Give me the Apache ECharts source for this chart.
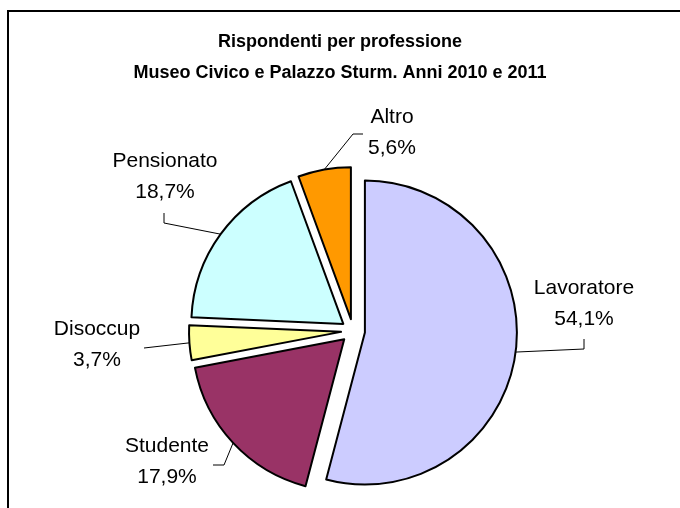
<!DOCTYPE html>
<html>
<head>
<meta charset="utf-8">
<script src="https://cdn.jsdelivr.net/npm/echarts@6/dist/echarts.min.js"></script>
<style>
  html, body { margin: 0; padding: 0; background: #fff; }
  #main { width: 680px; height: 508px; }
</style>
</head>
<body>
<div id="main"></div>
<script>
// data
var categories = ["Lavoratore", "Studente", "Disoccup", "Pensionato", "Altro"];
var values = [54.1, 17.9, 3.7, 18.7, 5.6];
var colors = ["#CCCCFF", "#993366", "#FFFF99", "#CCFFFF", "#FF9900"];

// label placement: text centre + leader elbow points
var labelPos = [
  { x: 584, y: 304, pts: [[584, 349], [584, 339]] },
  { x: 167, y: 462, pts: [[224, 465], [213, 465]] },
  { x: 97,  y: 345, pts: [[144, 348]] },
  { x: 165, y: 177, pts: [[164, 223], [164, 213]] },
  { x: 392, y: 133, pts: [[353, 134], [363, 134]] }
];

var cx = 353, cy = 331, R = 152, off = 12;
var FONT = "Liberation Sans, Arial, sans-serif";
var total = values.reduce(function(s, v){ return s + v; }, 0);

function midAngle(i){
  var acc = 0;
  for (var k = 0; k < i; k++) acc += values[k];
  return (acc + values[i] / 2) / total * Math.PI * 2;
}
function fmt(v){ return v.toFixed(1).replace(".", ",") + "%"; }

// frame, labels and leader lines (leader start on the exploded arc, from the data)
var graphics = [{
  type: "rect",
  shape: { x: 8, y: 11, width: 720, height: 600 },
  style: { fill: "none", stroke: "#000", lineWidth: 2 },
  silent: true
}];
categories.forEach(function(c, i){
  var a = midAngle(i), lp = labelPos[i];
  var sx = cx + (R + off) * Math.sin(a);
  var sy = cy - (R + off) * Math.cos(a);
  graphics.push({
    type: "polyline",
    shape: { points: [[sx, sy]].concat(lp.pts) },
    style: { stroke: "#000", lineWidth: 1, fill: null },
    silent: true, z: 10
  });
  graphics.push({
    type: "text",
    x: lp.x, y: lp.y,
    style: {
      text: c + "\n" + fmt(values[i]),
      font: "21px " + FONT,
      lineHeight: 31,
      fill: "#000",
      align: "center",
      verticalAlign: "middle"
    },
    silent: true, z: 10
  });
});

var chart = echarts.init(document.getElementById("main"));
var option = {
  animation: false,
  title: {
    text: "Rispondenti per professione\nMuseo Civico e Palazzo Sturm. Anni 2010 e 2011",
    left: "center",
    top: 27,
    padding: 0,
    textStyle: {
      fontFamily: FONT,
      fontSize: 18,
      fontWeight: "bold",
      color: "#000",
      lineHeight: 31
    }
  },
  graphic: graphics,
  series: [{
    type: "pie",
    center: [cx, cy],
    radius: R,
    startAngle: 90,
    clockwise: true,
    selectedMode: "multiple",
    selectedOffset: off,
    itemStyle: { borderColor: "#000", borderWidth: 2 },
    select: { itemStyle: { borderColor: "#000", borderWidth: 2 } },
    emphasis: { disabled: true },
    label: { show: false },
    labelLine: { show: false },
    data: categories.map(function(c, i){
      return {
        name: c, value: values[i], selected: true,
        itemStyle: { color: colors[i] },
        select: { itemStyle: { color: colors[i] } }
      };
    })
  }]
};
chart.setOption(option);
</script>
</body>
</html>
